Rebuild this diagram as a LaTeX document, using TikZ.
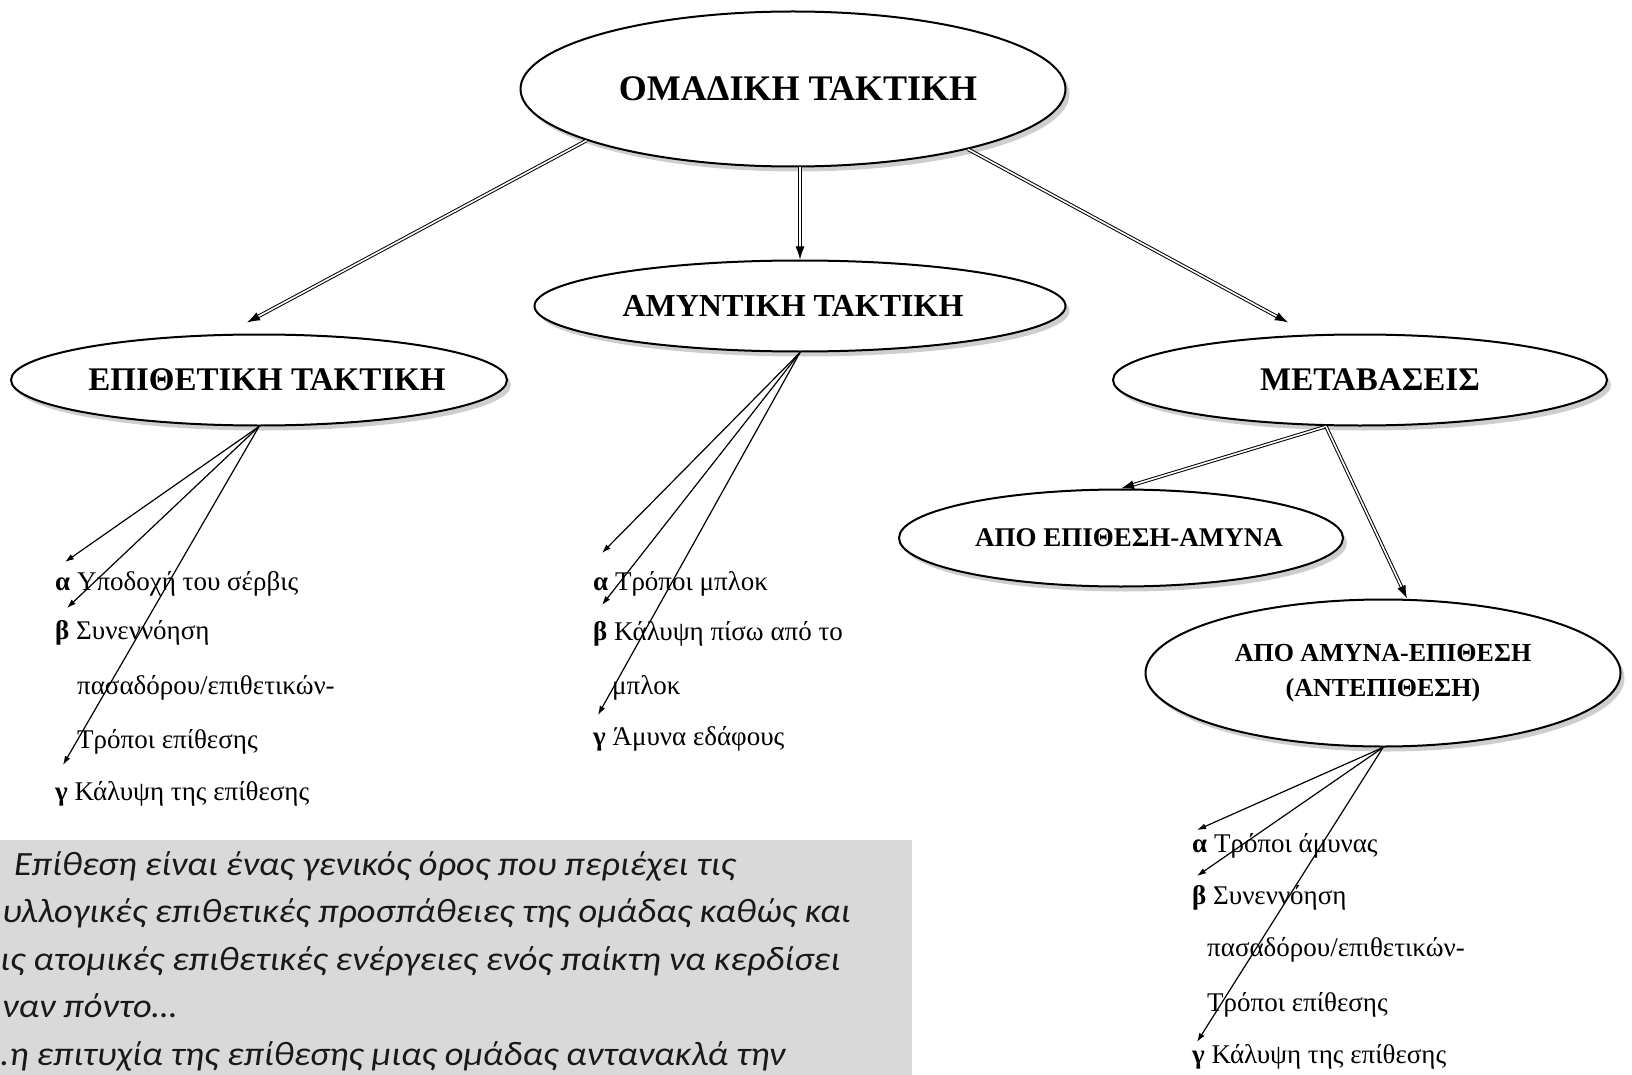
\documentclass[tikz,border=0pt]{standalone}
\usepackage{fontspec}
\setmainfont{Liberation Serif}
\newfontfamily\calfont[FakeStretch=1.07]{Carlito}
\usetikzlibrary{arrows.meta,shapes.geometric,shadows}
\definecolor{boxgray}{HTML}{D9D9D9}
\newcommand{\shiftedtext}[2]{\hspace*{#1}\makebox[0pt]{#2}}
\tikzset{
  elli/.style={ellipse,draw,line width=2pt,fill=white,inner sep=0pt,
    drop shadow={shadow xshift=4pt,shadow yshift=-5pt,fill=black!35,opacity=.55}},
  dbl/.style={draw,double=white,double distance=1.6pt,line width=1pt,-{Latex[length=13pt,width=9pt]}},
  listarrow/.style={draw,line width=1.2pt,-{Latex[length=9pt,width=6pt]}},
  entry/.style={anchor=base west,inner sep=0pt,font=\fontsize{27}{27}\selectfont},
  boxline/.style={anchor=base west,inner sep=0pt,text=black!90,font=\calfont\itshape\fontsize{34}{34}\selectfont}
}
\begin{document}
\begin{tikzpicture}[x=1pt,y=-1pt]
\useasboundingbox(0,0)rectangle(1632,1075);
%κόμβοι
\node[elli,minimum width=545,minimum height=155,font=\bfseries\fontsize{36}{36}\selectfont](omad)at(793,89){\shiftedtext{10pt}{ΟΜΑΔΙΚΗ ΤΑΚΤΙΚΗ}};
\node[elli,minimum width=496,minimum height=91,font=\bfseries\fontsize{33}{33}\selectfont](epith)at(259,380){\shiftedtext{16pt}{ΕΠΙΘΕΤΙΚΗ ΤΑΚΤΙΚΗ}};
\node[elli,minimum width=531,minimum height=91,font=\bfseries\fontsize{32}{32}\selectfont](amyn)at(800,306){\shiftedtext{-14pt}{ΑΜΥΝΤΙΚΗ ΤΑΚΤΙΚΗ}};
\node[elli,minimum width=494,minimum height=91,font=\bfseries\fontsize{33}{33}\selectfont](metab)at(1360,380){\shiftedtext{20pt}{ΜΕΤΑΒΑΣΕΙΣ}};
\node[elli,minimum width=444,minimum height=97,font=\bfseries\fontsize{27}{27}\selectfont](apoep)at(1121,538){\shiftedtext{16pt}{ΑΠΟ ΕΠΙΘΕΣΗ-ΑΜΥΝΑ}};
\node[elli,minimum width=475,minimum height=147,align=center,font=\bfseries\fontsize{26}{35}\selectfont](apoam)at(1383,673){ΑΠΟ ΑΜΥΝΑ-ΕΠΙΘΕΣΗ\\(ΑΝΤΕΠΙΘΕΣΗ)};
%διπλά βέλη
\path[dbl](omad.194)to([xshift=-12pt,yshift=11pt]epith.north);
\path[dbl](amyn.north|-omad.south)to(amyn.north);
\path[dbl](omad.341)to([xshift=-72pt,yshift=11pt]metab.north);
\path[dbl]([xshift=-34pt]metab.south)to(apoep.north);
\path[dbl]([xshift=-34pt]metab.south)to([xshift=24pt]apoam.north);
%επιθετική
\node[entry](la)at(55,590){\textbf{α} Υποδοχή του σέρβις};
\node[entry](lb)at(55,639){\textbf{β} Συνεννόηση};
\node[entry](lc)at(77,694){πασαδόρου/επιθετικών-};
\node[entry](ld)at(77,748){Τρόποι επίθεσης};
\node[entry](le)at(55,800){\textbf{γ} Κάλυψη της επίθεσης};
\coordinate(lta)at(65,562);
\coordinate(ltb)at(67,608);
\coordinate(ltc)at(63,765);
\path[listarrow](epith.south)to(lta);
\path[listarrow](epith.south)to(ltb);
\path[listarrow](epith.south)to(ltc);
%αμυντική
\node[entry](ma)at(593,590){\textbf{α} Τρόποι μπλοκ};
\node[entry](mb)at(593,640){\textbf{β} Κάλυψη πίσω από το};
\node[entry](mc)at(612,694){μπλοκ};
\node[entry](md)at(593,745){\textbf{γ} Άμυνα εδάφους};
\coordinate(mta)at(602,553);
\coordinate(mtb)at(602,605);
\coordinate(mtc)at(598,715);
\path[listarrow](amyn.south)to(mta);
\path[listarrow](amyn.south)to(mtb);
\path[listarrow](amyn.south)to(mtc);
%αντεπίθεση
\node[entry](ra)at(1192,852){\textbf{α} Τρόποι άμυνας};
\node[entry](rb)at(1192,904){\textbf{β} Συνεννόηση};
\node[entry](rc)at(1207,956){πασαδόρου/επιθετικών-};
\node[entry](rd)at(1207,1011){Τρόποι επίθεσης};
\node[entry](re)at(1192,1063){\textbf{γ} Κάλυψη της επίθεσης};
\coordinate(rta)at(1197,830);
\coordinate(rtb)at(1197,876);
\coordinate(rtc)at(1197,1042);
\path[listarrow](apoam.south)to(rta);
\path[listarrow](apoam.south)to(rtb);
\path[listarrow](apoam.south)to(rtc);
%πλαίσιο κειμένου
\fill[boxgray](0,840)rectangle(912,1075);
\node[boxline](b1)at(14,875){Επίθεση είναι ένας γενικός όρος που περιέχει τις};
\node[boxline](b2)at(2,922){υλλογικές επιθετικές προσπάθειες της ομάδας καθώς και};
\node[boxline](b3)at(0,970){ις ατομικές επιθετικές ενέργειες ενός παίκτη να κερδίσει};
\node[boxline](b4)at(2,1017){ναν πόντο…};
\node[boxline](b5)at(0,1065){.η επιτυχία της επίθεσης μιας ομάδας αντανακλά την};
\end{tikzpicture}
\end{document}
